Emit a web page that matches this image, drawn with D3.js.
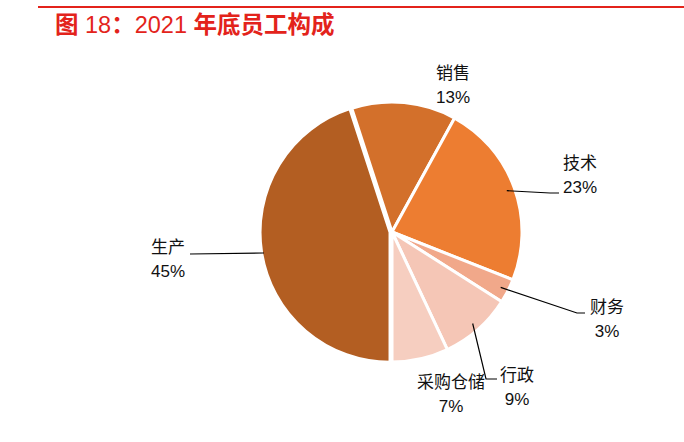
<!DOCTYPE html>
<html>
<head>
<meta charset="utf-8">
<script src="https://cdn.jsdelivr.net/npm/d3@7"></script>
<style>
  body { margin: 0; background: #fff; }
  svg text { font-family: "Liberation Sans", "Noto Sans CJK SC", sans-serif; }
</style>
</head>
<body>
<script>
// data
var categories = ["生产", "销售", "技术", "财务", "行政", "采购仓储"];
var shares = [45, 13, 23, 3, 9, 7];
var colors = ["#B35E22", "#D3702B", "#ED7D31", "#F1A88A", "#F5C6B6", "#F6CEC0"];
var labelText = ["45%", "13%", "23%", "3%", "9%", "7%"];

var width = 684, height = 442;
var cx = 392, cy = 232, radius = 130;

var svg = d3.select("body").append("svg")
    .attr("width", width)
    .attr("height", height);

// header rule + title
svg.append("line")
    .attr("x1", 38).attr("y1", 7).attr("x2", width).attr("y2", 7)
    .attr("stroke", "#E3231B").attr("stroke-width", 2);
var title = svg.append("text")
    .attr("x", 55).attr("y", 33)
    .attr("fill", "#E3231B")
    .attr("font-size", 23.5);
// CJK parts heavier than the digits, like the reference
[["图", true], [" 18", false], ["：", true], ["2021 ", false], ["年底员工构成", true]].forEach(function(p) {
    title.append("tspan")
        .attr("font-weight", p[1] ? "bold" : "normal")
        .text(p[0]);
});

var rows = categories.map(function(c, i) { return {name: c, value: shares[i], color: colors[i], pct: labelText[i]}; });

var pie = d3.pie().sort(null).value(function(d) { return d.value; })
    .startAngle(Math.PI).endAngle(3 * Math.PI);
var arc = d3.arc().innerRadius(0).outerRadius(radius);
var arcs = pie(rows);

var g = svg.append("g").attr("transform", "translate(" + cx + "," + cy + ")");

g.selectAll("path.slice")
    .data(arcs)
    .enter().append("path")
    .attr("class", "slice")
    .attr("d", arc)
    .attr("fill", function(d) { return d.data.color; })
    .attr("stroke", "#fff")
    .attr("stroke-width", 3)
    .attr("transform", function(d) {
        // the big slice is pulled out a little
        if (d.data.name != "生产") return null;
        var mid = (d.startAngle + d.endAngle) / 2;
        return "translate(" + (Math.sin(mid) * 2) + "," + (-Math.cos(mid) * 2) + ")";
    });

// label positions (absolute, by category)
var labelPos = {
    "生产": [168, 247],
    "销售": [453, 73],
    "技术": [580, 163],
    "财务": [607, 307],
    "行政": [517, 375],
    "采购仓储": [451, 382]
};
// leader lines: elbow and end points
var leaders = {
    "生产": [[263, 253], [190, 254]],
    "技术": [[550, 193], [559, 193]],
    "财务": [[577, 313], [585, 313]],
    "行政": [[486, 379], [497, 379]]
};

arcs.forEach(function(d) {
    var name = d.data.name;
    var p = labelPos[name];
    if (leaders[name]) {
        var mid = (d.startAngle + d.endAngle) / 2;
        var r0 = radius - 8;
        var start = [cx + Math.sin(mid) * r0, cy - Math.cos(mid) * r0];
        if (name == "生产") start = [cx - radius + 2, 253];
        var pts = [start].concat(leaders[name]);
        svg.append("path")
            .attr("d", d3.line()(pts))
            .attr("fill", "none")
            .attr("stroke", "#000")
            .attr("stroke-width", 1.2);
    }
    svg.append("text")
        .attr("x", p[0]).attr("y", p[1])
        .attr("text-anchor", "middle")
        .attr("dominant-baseline", "central")
        .attr("font-size", 17)
        .attr("fill", "#111")
        .text(name);
    svg.append("text")
        .attr("x", p[0]).attr("y", p[1] + 24)
        .attr("text-anchor", "middle")
        .attr("dominant-baseline", "central")
        .attr("font-size", 17)
        .attr("fill", "#111")
        .text(d.data.pct);
});
</script>
</body>
</html>
